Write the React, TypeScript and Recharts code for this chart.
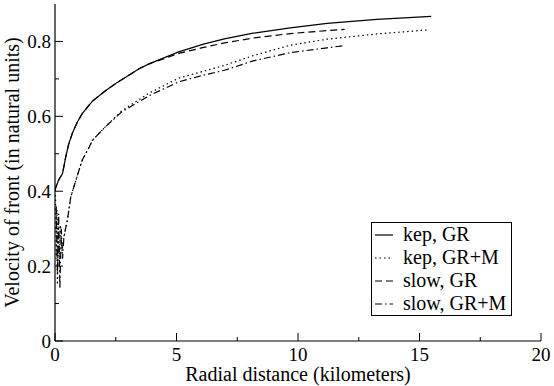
import React from "react";
import { LineChart, Line, XAxis, YAxis, Legend } from "recharts";

// ---- data ----
const kepGR_x = [0, 0.03, 0.15, 0.31, 0.44, 0.56, 0.71, 0.92, 1.12, 1.53, 2.09, 2.55, 3.46, 3.87, 5.09, 6.11, 6.97, 8.15, 9.68, 11.2, 13.24, 15.48];
const kepGR_y = [0.40, 0.41, 0.43, 0.447, 0.491, 0.525, 0.554, 0.585, 0.607, 0.64, 0.669, 0.69, 0.727, 0.740, 0.772, 0.793, 0.807, 0.822, 0.836, 0.848, 0.859, 0.867];

const slowGR_x = [0, 0.03, 0.15, 0.31, 0.44, 0.56, 0.71, 0.92, 1.12, 1.53, 2.09, 2.55, 3.46, 3.87, 5.09, 6.11, 6.97, 8.15, 9.68, 11.2, 11.92];
const slowGR_y = [0.40, 0.41, 0.43, 0.447, 0.491, 0.525, 0.554, 0.585, 0.607, 0.64, 0.669, 0.69, 0.727, 0.740, 0.768, 0.784, 0.796, 0.809, 0.821, 0.829, 0.832];

const kepGRM_x = [0.02, 0.05, 0.08, 0.1, 0.14, 0.18, 0.22, 0.29, 0.37, 0.51, 0.65, 0.86, 1.12, 1.41, 1.54, 2.04, 2.75, 3.87, 5.09, 6.97, 8.15, 9.68, 11.2, 13.24, 15.38];
const kepGRM_y = [0.39, 0.22, 0.35, 0.15, 0.33, 0.2, 0.31, 0.24, 0.278, 0.323, 0.385, 0.429, 0.483, 0.518, 0.536, 0.57, 0.615, 0.662, 0.702, 0.736, 0.762, 0.79, 0.806, 0.82, 0.831];

const slowGRM_x = [0.05, 0.1, 0.15, 0.2, 0.26, 0.31, 0.37, 0.51, 0.65, 0.86, 1.12, 1.41, 1.54, 2.04, 2.75, 3.87, 5.09, 6.11, 6.97, 8.15, 9.68, 11.2, 11.92];
const slowGRM_y = [0.36, 0.18, 0.34, 0.14, 0.3, 0.22, 0.28, 0.323, 0.385, 0.429, 0.483, 0.518, 0.536, 0.57, 0.612, 0.655, 0.692, 0.71, 0.723, 0.748, 0.77, 0.783, 0.789];

const xTicks = [0, 2.5, 5, 7.5, 10, 12.5, 15, 17.5, 20];
const xMajor = [0, 5, 10, 15, 20];
const yTicks = [0, 0.1, 0.2, 0.3, 0.4, 0.5, 0.6, 0.7, 0.8];
const yMajor = [0, 0.2, 0.4, 0.6, 0.8];

const seriesNames = ["kep, GR", "kep, GR+M", "slow, GR", "slow, GR+M"];
const xLabel = "Radial distance (kilometers)";
const yLabel = "Velocity of front (in natural units)";

const toPts = (xs: number[], ys: number[]) => xs.map((x, i) => ({ x, y: ys[i] }));

const FONT = '"Liberation Serif", "Times New Roman", serif';
const dashes = ["", "1.5 3", "7 4", "7 3 1.5 3"];
const seriesData = [
  toPts(kepGR_x, kepGR_y),
  toPts(kepGRM_x, kepGRM_y),
  toPts(slowGR_x, slowGR_y),
  toPts(slowGRM_x, slowGRM_y),
];

const isMajor = (v: number, list: number[]) => list.some((m) => Math.abs(m - v) < 1e-9);
const fmtY = (v: number) => (v === 0 ? "0" : String(Math.round(v * 10) / 10));

const BottomTick = (props: any) => {
  const { x, y, payload } = props;
  const major = isMajor(payload.value, xMajor);
  return (
    <g>
      <line x1={x} x2={x} y1={y} y2={y - (major ? 8 : 4)} stroke="#000" strokeWidth={1} />
      {major && (
        <text x={x} y={y + 20} textAnchor="middle" fontSize={19} fontFamily={FONT} fill="#000">
          {payload.value}
        </text>
      )}
    </g>
  );
};
const TopTick = (props: any) => {
  const { x, y, payload } = props;
  const major = isMajor(payload.value, xMajor);
  return <line x1={x} x2={x} y1={y} y2={y + (major ? 8 : 4)} stroke="#000" strokeWidth={1} />;
};
const LeftTick = (props: any) => {
  const { x, y, payload } = props;
  const major = isMajor(payload.value, yMajor);
  return (
    <g>
      <line x1={x} x2={x + (major ? 8 : 4)} y1={y} y2={y} stroke="#000" strokeWidth={1} />
      {major && (
        <text x={x - 4} y={y} dy="0.35em" textAnchor="end" fontSize={19} fontFamily={FONT} fill="#000">
          {fmtY(payload.value)}
        </text>
      )}
    </g>
  );
};
const RightTick = (props: any) => {
  const { x, y, payload } = props;
  const major = isMajor(payload.value, yMajor);
  return <line x1={x} x2={x - (major ? 8 : 4)} y1={y} y2={y} stroke="#000" strokeWidth={1} />;
};

const LegendBox = () => (
  <div
    style={{
      width: 139,
      height: 92,
      border: "1px solid #000",
      background: "#fff",
      fontSize: 20,
      fontFamily: FONT,
      color: "#000",
      boxSizing: "content-box",
    }}
  >
    {seriesNames.map((name, i) => (
      <div key={name} style={{ display: "flex", alignItems: "center", height: 23 }}>
        <svg width={31} height={23} style={{ flex: "none" }}>
          <line x1={3} x2={21} y1={12} y2={12} stroke="#000" strokeWidth={1.2} strokeDasharray={dashes[i] || undefined} />
        </svg>
        <span style={{ lineHeight: "23px", whiteSpace: "nowrap" }}>{name}</span>
      </div>
    ))}
  </div>
);

export default function App() {
  return (
    <div style={{ position: "absolute", left: 0, top: 0, width: 554, height: 386, background: "#fff" }}>
      <LineChart width={554} height={386} margin={{ top: 4, right: 13, bottom: 0, left: 0 }}>
        <XAxis
          xAxisId={0}
          dataKey="x"
          type="number"
          domain={[0, 20]}
          ticks={xTicks}
          interval={0}
          height={45}
          tickSize={0}
          tickMargin={0}
          tickLine={false}
          tick={BottomTick}
          axisLine={{ stroke: "#000", strokeWidth: 1.2 }}
          allowDataOverflow
          label={(p: any) => {
            const vb = p.viewBox || {};
            return (
              <text x={vb.x + vb.width / 2} y={381} textAnchor="middle" fontSize={20} fontFamily={FONT} fill="#000">
                {xLabel}
              </text>
            );
          }}
        />
        <XAxis
          xAxisId="top"
          orientation="top"
          type="number"
          domain={[0, 20]}
          ticks={xTicks}
          interval={0}
          height={0}
          tickSize={0}
          tickMargin={0}
          tickLine={false}
          tick={TopTick}
          axisLine={{ stroke: "#000", strokeWidth: 1.2 }}
          allowDataOverflow
        />
        <YAxis
          yAxisId={0}
          type="number"
          domain={[0, 0.9]}
          ticks={yTicks}
          interval={0}
          width={55}
          tickSize={0}
          tickMargin={0}
          tickLine={false}
          tick={LeftTick}
          axisLine={{ stroke: "#000", strokeWidth: 1.2 }}
          allowDataOverflow
          label={(p: any) => {
            const vb = p.viewBox || {};
            const cx = 12;
            const cy = vb.y + vb.height / 2;
            return (
              <text
                x={cx}
                y={cy}
                transform={`rotate(-90 ${cx} ${cy})`}
                textAnchor="middle"
                dy="0.35em"
                fontSize={20}
                fontFamily={FONT}
                fill="#000"
              >
                {yLabel}
              </text>
            );
          }}
        />
        <YAxis
          yAxisId="right"
          orientation="right"
          type="number"
          domain={[0, 0.9]}
          ticks={yTicks}
          interval={0}
          width={0}
          tickSize={0}
          tickMargin={0}
          tickLine={false}
          tick={RightTick}
          axisLine={{ stroke: "#000", strokeWidth: 1.2 }}
          allowDataOverflow
        />
        {seriesData.map((d, i) => (
          <Line
            key={seriesNames[i]}
            xAxisId={0}
            yAxisId={0}
            data={d}
            dataKey="y"
            name={seriesNames[i]}
            type="linear"
            stroke="#000"
            strokeWidth={1.2}
            strokeDasharray={dashes[i] || undefined}
            dot={false}
            activeDot={false}
            isAnimationActive={false}
          />
        ))}
        <Legend
          layout="vertical"
          align="center"
          verticalAlign="middle"
          content={() => <LegendBox />}
          wrapperStyle={{ position: "absolute", left: 371, top: 222, width: 141, height: 94 }}
        />
      </LineChart>
    </div>
  );
}
